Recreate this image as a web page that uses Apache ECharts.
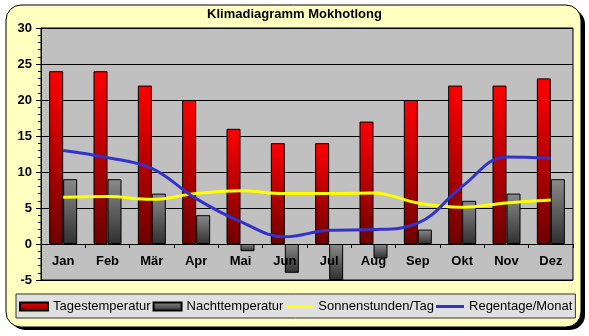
<!DOCTYPE html>
<html>
<head>
<meta charset="utf-8">
<script src="https://cdn.jsdelivr.net/npm/echarts@6/dist/echarts.min.js"></script>
<style>
  html, body { margin: 0; padding: 0; background: #ffffff; }
  #chart { width: 589px; height: 336px; }
</style>
</head>
<body>
<div id="chart"></div>
<script>
// Klimadaten Mokhotlong
const months = ['Jan', 'Feb', 'Mär', 'Apr', 'Mai', 'Jun', 'Jul', 'Aug', 'Sep', 'Okt', 'Nov', 'Dez'];
const tagesTemp = [24, 24, 22, 20, 16, 14, 14, 17, 20, 22, 22, 23];
const nachtTemp = [9, 9, 7, 4, -1, -4, -5, -2, 2, 6, 7, 9];
const sonnenstunden = [6.5, 6.6, 6.2, 7.0, 7.4, 7.0, 7.0, 7.1, 5.7, 5.1, 5.7, 6.1];
const regentage = [13, 12, 10.5, 6.3, 3.1, 1, 1.9, 2, 2.9, 8, 12.1, 11.9];
const yTicks = { min: -5, max: 30, step: 5 };

const FONT = '"Liberation Sans", Arial, sans-serif';

// plot box (pixels) and where the zero line falls inside it
const PLOT = { left: 41, top: 28, right: 16, bottom: 56, height: 252 };
const zeroShift = PLOT.height * (0 - yTicks.min) / (yTicks.max - yTicks.min);

const redFill = new echarts.graphic.LinearGradient(0, 0, 0, 1, [
  { offset: 0, color: '#ff0000' },
  { offset: 1, color: '#6e0000' }
]);
const greyFill = new echarts.graphic.LinearGradient(0, 0, 0, 1, [
  { offset: 0, color: '#8a8a8a' },
  { offset: 1, color: '#303030' }
]);

// legend glyph for the line series: a 3px stroke centred in an 8px tall box
const lineGlyph = 'path://M0,0 M0,8 M0,2.5 L28,2.5 L28,5.5 L0,5.5 Z';

const chart = echarts.init(document.getElementById('chart'), null, { renderer: 'canvas' });

chart.setOption({
  animation: false,
  backgroundColor: '#ffffff',
  graphic: [
    {
      type: 'rect', z: -10, silent: true,
      shape: { x: 10, y: 9, width: 575, height: 321, r: 15 },
      style: { fill: '#000000' }
    },
    {
      type: 'rect', z: -9, silent: true,
      shape: { x: 6, y: 5, width: 575, height: 322, r: 15 },
      style: { fill: '#ffffc0', stroke: '#000000', lineWidth: 1 }
    }
  ],
  title: {
    text: 'Klimadiagramm Mokhotlong',
    left: 'center',
    top: 8,
    padding: 0,
    textStyle: { fontFamily: FONT, fontSize: 13, fontWeight: 'bold', color: '#000000' }
  },
  legend: {
    left: 16,
    top: 294,
    padding: [6, 3, 5, 3],
    itemGap: 2,
    itemWidth: 28,
    itemHeight: 8,
    backgroundColor: '#e0e0e0',
    borderColor: '#333333',
    borderWidth: 1,
    borderRadius: 0,
    textStyle: { fontFamily: FONT, fontSize: 13, color: '#000000' },
    data: [
      { name: 'Tagestemperatur', icon: 'rect' },
      { name: 'Nachttemperatur', icon: 'rect' },
      { name: 'Sonnenstunden/Tag', icon: lineGlyph },
      { name: 'Regentage/Monat', icon: lineGlyph }
    ]
  },
  grid: {
    left: PLOT.left, top: PLOT.top, right: PLOT.right, bottom: PLOT.bottom,
    show: true,
    backgroundColor: '#c0c0c0',
    borderColor: '#000000',
    borderWidth: 1
  },
  xAxis: {
    type: 'category',
    data: months,
    position: 'bottom',
    offset: -zeroShift,
    z: 10,
    axisLine: { show: true, onZero: false, lineStyle: { color: '#000000', width: 1 } },
    axisTick: { show: true, length: 4, lineStyle: { color: '#000000' } },
    axisLabel: { margin: 11, fontFamily: FONT, fontSize: 13, fontWeight: 'bold', color: '#000000' },
    splitLine: { show: false }
  },
  yAxis: {
    type: 'value',
    min: yTicks.min, max: yTicks.max, interval: yTicks.step,
    axisLine: { show: true, lineStyle: { color: '#000000' } },
    axisTick: { show: true, length: 5, lineStyle: { color: '#000000' } },
    minorTick: { show: true, splitNumber: 5, length: 3, lineStyle: { color: '#000000' } },
    axisLabel: { margin: 9, fontFamily: FONT, fontSize: 13, fontWeight: 'bold', color: '#000000' },
    splitLine: { show: true, lineStyle: { color: '#000000', width: 1 } }
  },
  series: [
    {
      name: 'Tagestemperatur', type: 'bar', data: tagesTemp,
      barWidth: 14, barGap: '0%',
      itemStyle: { color: redFill, borderColor: '#000000', borderWidth: 1 },
      z: 3
    },
    {
      name: 'Nachttemperatur', type: 'bar', data: nachtTemp,
      barWidth: 14, barGap: '0%',
      itemStyle: { color: greyFill, borderColor: '#000000', borderWidth: 1 },
      z: 3
    },
    {
      name: 'Sonnenstunden/Tag', type: 'line', data: sonnenstunden,
      smooth: 0.4, symbol: 'none',
      lineStyle: { color: '#ffff00', width: 3 },
      itemStyle: { color: '#ffff00' },
      z: 4
    },
    {
      name: 'Regentage/Monat', type: 'line', data: regentage,
      smooth: 0.4, symbol: 'none',
      lineStyle: { color: '#3333cc', width: 3 },
      itemStyle: { color: '#3333cc' },
      z: 5
    }
  ]
});
</script>
</body>
</html>
